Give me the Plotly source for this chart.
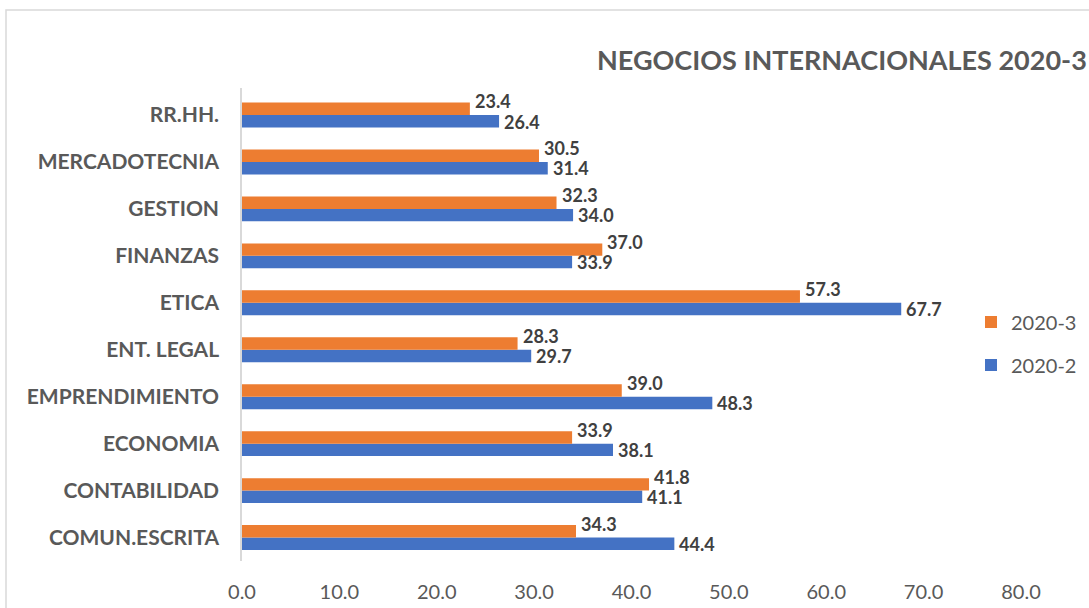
import plotly.graph_objects as go

categories = ["COMUN.ESCRITA", "CONTABILIDAD", "ECONOMIA", "EMPRENDIMIENTO", "ENT. LEGAL",
              "ETICA", "FINANZAS", "GESTION", "MERCADOTECNIA", "RR.HH."]
values_2020_2 = [44.4, 41.1, 38.1, 48.3, 29.7, 67.7, 33.9, 34.0, 31.4, 26.4]
values_2020_3 = [34.3, 41.8, 33.9, 39.0, 28.3, 57.3, 37.0, 32.3, 30.5, 23.4]
x_ticks = [0, 10, 20, 30, 40, 50, 60, 70, 80]

FONT = "Lato, 'Open Sans', sans-serif"
label_font = dict(family=FONT, size=18, color="#404040", weight="bold")

fig = go.Figure()
fig.add_trace(go.Bar(
    y=categories, x=values_2020_2, orientation="h", name="2020-2",
    marker=dict(color="#4472C4", line=dict(width=0)),
    legendgroup="b", legendrank=2, hoverinfo="x+name",
))
fig.add_trace(go.Bar(
    y=categories, x=values_2020_3, orientation="h", name="2020-3",
    marker=dict(color="#ED7D31", line=dict(width=0)),
    legendgroup="a", legendrank=1, hoverinfo="x+name",
))

# data labels (positioned from the data values)
for cat, v in zip(categories, values_2020_3):
    fig.add_annotation(x=v, y=cat, xref="x", yref="y", text=f"<b>{v:.1f}</b>",
                       showarrow=False, xanchor="left", yanchor="middle",
                       xshift=3, yshift=14, font=label_font)
for cat, v in zip(categories, values_2020_2):
    fig.add_annotation(x=v, y=cat, xref="x", yref="y", text=f"<b>{v:.1f}</b>",
                       showarrow=False, xanchor="left", yanchor="middle",
                       xshift=3, yshift=-6.5, font=label_font)

PW = 1089 - 242 - 68
fig.update_layout(
    width=1089, height=608,
    margin=dict(l=242, r=68, t=88, b=47, autoexpand=False),
    paper_bgcolor="white", plot_bgcolor="white",
    barmode="group", bargap=0.47, bargroupgap=0.0,
    title=dict(text="<b>NEGOCIOS INTERNACIONALES 2020-3</b>", x=0.998, xanchor="right",
               xref="container", y=0.901, yanchor="middle", yref="container",
               font=dict(family=FONT, size=27, color="#595959")),
    font=dict(family=FONT, color="#595959"),
    showlegend=True,
    legend=dict(x=(971 - 242) / PW, y=0.46, xanchor="left", yanchor="middle",
                traceorder="grouped", tracegroupgap=14,
                font=dict(family=FONT, size=20, color="#595959"),
                bgcolor="rgba(0,0,0,0)"),
)
fig.update_xaxes(range=[0, 80], tickvals=x_ticks, tickformat=".1f",
                 showgrid=False, zeroline=False, showline=False, ticks="",
                 ticklabelstandoff=17, automargin=False,
                 tickfont=dict(family=FONT, size=20, color="#595959"))
fig.update_yaxes(categoryorder="array", categoryarray=categories,
                 showgrid=False, zeroline=False, showline=True, linecolor="#d9d9d9",
                 linewidth=1.5, ticks="", ticklabelstandoff=17, automargin=False,
                 tickfont=dict(family=FONT, size=21, color="#595959", weight="bold"))

fig.add_shape(type="rect", xref="paper", yref="paper",
              x0=(6 - 242) / PW, x1=1.3, y0=-0.3, y1=1 + (88 - 10) / 473,
              line=dict(color="#d9d9d9", width=1.5), fillcolor="rgba(0,0,0,0)", layer="below")

fig.write_html("out.html", config={"displayModeBar": False},
               post_script="document.body.style.margin='0';")
